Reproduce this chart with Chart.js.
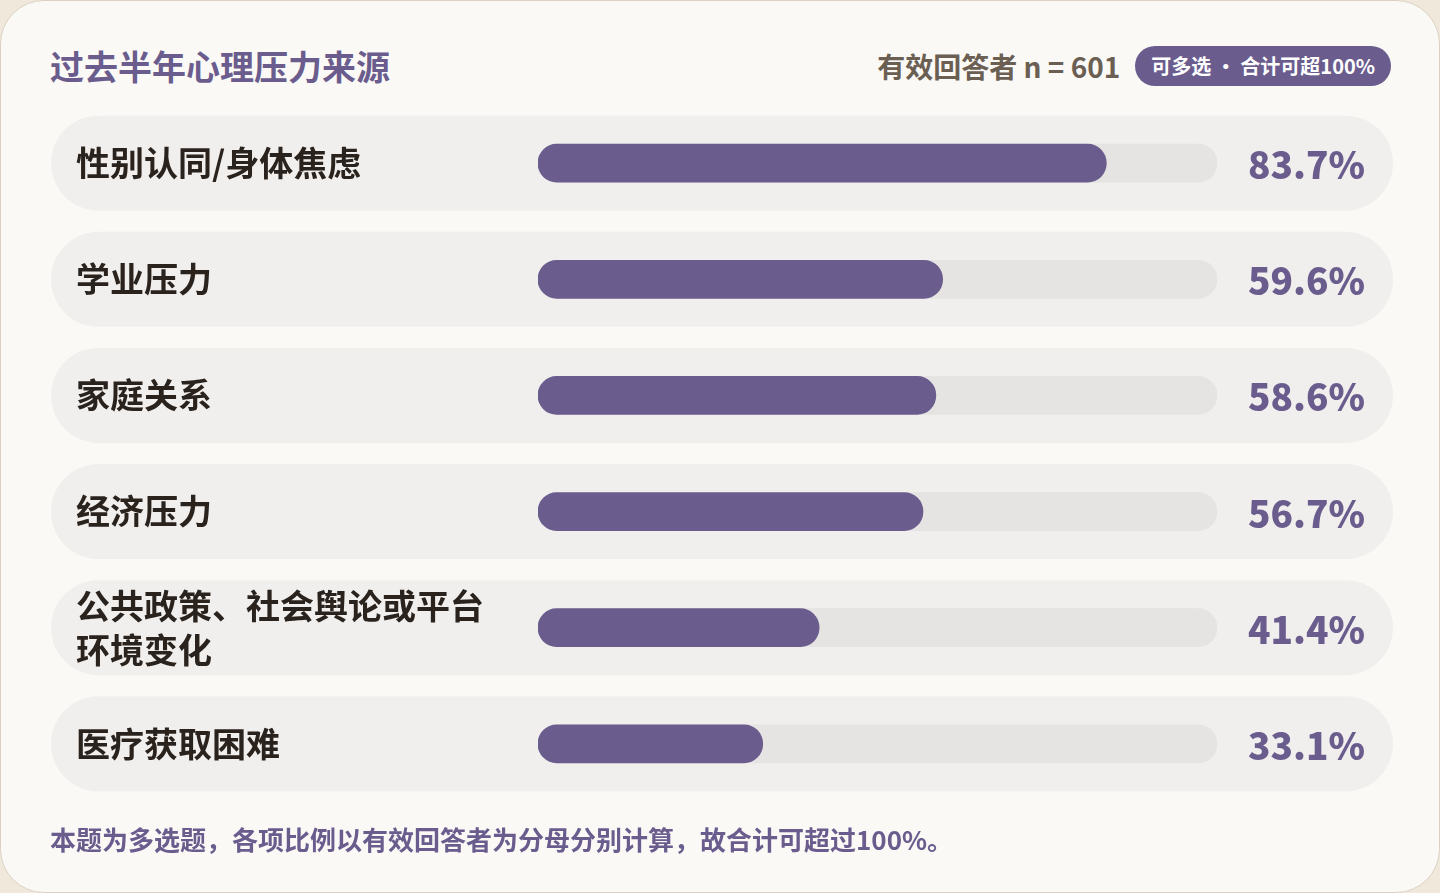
<!DOCTYPE html>
<html lang="zh-CN">
<head>
<meta charset="utf-8">
<script src="https://cdn.jsdelivr.net/npm/chart.js@4.4.1/dist/chart.umd.min.js"></script>
<style>
    html, body { margin: 0; padding: 0; }
    body {
        width: 1440px; height: 893px; overflow: hidden;
        background: #f0e8da;
        font-family: "Noto Sans CJK SC", "Noto Sans", sans-serif;
    }
    .card {
        position: absolute; left: 0; top: 0;
        width: 1438px; height: 891px;
        background: #faf9f6;
        border: 1px solid #dcd2c4;
        border-radius: 44px;
    }
    .title {
        position: absolute; left: 49px; top: 42px;
        font-size: 34px; font-weight: 700; color: #6a5d8e;
        line-height: 46px; white-space: nowrap;
    }
    .meta {
        position: absolute; right: 48px; top: 45px;
        display: flex; align-items: center; gap: 15px;
    }
    .n { font-size: 28px; font-weight: 700; color: #6b5f53; line-height: 40px; }
    .pill {
        background: #6a5d8e; color: #fff; font-size: 20px; font-weight: 700;
        height: 40px; line-height: 40px; padding: 0 16px; border-radius: 20px;
    }
    .wrap { position: absolute; left: 50px; top: 82px; width: 1342px; height: 741px; }
    .note {
        position: absolute; left: 49px; top: 820px;
        font-size: 26px; font-weight: 700; color: #6a5d8e; line-height: 36px; white-space: nowrap;
    }
</style>
</head>
<body>
<div class="card">
    <div class="title">过去半年心理压力来源</div>
    <div class="meta">
        <span class="n">有效回答者 n = 601</span>
        <span class="pill">可多选 · 合计可超100%</span>
    </div>
    <div class="wrap"><canvas id="myChart"></canvas></div>
    <div class="note">本题为多选题，各项比例以有效回答者为分母分别计算，故合计可超过100%。</div>
</div>
<script>
const categories = [
    '性别认同/身体焦虑',
    '学业压力',
    '家庭关系',
    '经济压力',
    ['公共政策、社会舆论或平台', '环境变化'],
    '医疗获取困难'
];
const values = [83.7, 59.6, 58.6, 56.7, 41.4, 33.1];
const track = [100, 100, 100, 100, 100, 100];

const purple = '#6a5d8e';

// row backgrounds behind everything
const rowBg = {
    id: 'rowBg',
    beforeDraw(chart) {
        const ctx = chart.ctx;
        const y = chart.scales.y;
        ctx.save();
        ctx.fillStyle = '#f0efed';
        categories.forEach((c, i) => {
            const cy = y.getPixelForValue(i);
            ctx.beginPath();
            ctx.roundRect(0, cy - 47.5, chart.width, 95, 47.5);
            ctx.fill();
        });
        ctx.restore();
    }
};

// percentage text at the right of each row
const valueText = {
    id: 'valueText',
    afterDatasetsDraw(chart) {
        const ctx = chart.ctx;
        const y = chart.scales.y;
        ctx.save();
        ctx.fillStyle = purple;
        ctx.font = '900 37px "Noto Sans CJK SC"';
        ctx.textAlign = 'right';
        ctx.textBaseline = 'middle';
        values.forEach((v, i) => {
            ctx.fillText(v.toFixed(1) + '%', chart.width - 28, y.getPixelForValue(i) + 2);
        });
        ctx.restore();
    }
};

const ctx = document.getElementById('myChart').getContext('2d');
const myChart = new Chart(ctx, {
    type: 'bar',
    data: {
        labels: categories,
        datasets: [{
            data: values,
            backgroundColor: purple,
            borderRadius: 19,
            borderSkipped: false,
            barThickness: 38,
            grouped: false
        }, {
            data: track,
            backgroundColor: '#e5e4e2',
            borderRadius: 19,
            borderSkipped: false,
            barThickness: 38,
            grouped: false
        }]
    },
    options: {
        indexAxis: 'y',
        responsive: true,
        maintainAspectRatio: false,
        animation: false,
        layout: { padding: { left: 25, right: 176, top: 0, bottom: 0 } },
        plugins: { legend: { display: false }, tooltip: { enabled: false } },
        scales: {
            x: { display: false, min: 0, max: 100 },
            y: {
                grid: { display: false, drawTicks: false },
                border: { display: false },
                afterFit(scale) { scale.width = 462; },
                ticks: {
                    crossAlign: 'far',
                    padding: 0,
                    color: '#2a221d',
                    font: { family: 'Noto Sans CJK SC', size: 34, weight: '700', lineHeight: 1.3 }
                }
            }
        }
    },
    plugins: [rowBg, valueText]
});
</script>
</body>
</html>
